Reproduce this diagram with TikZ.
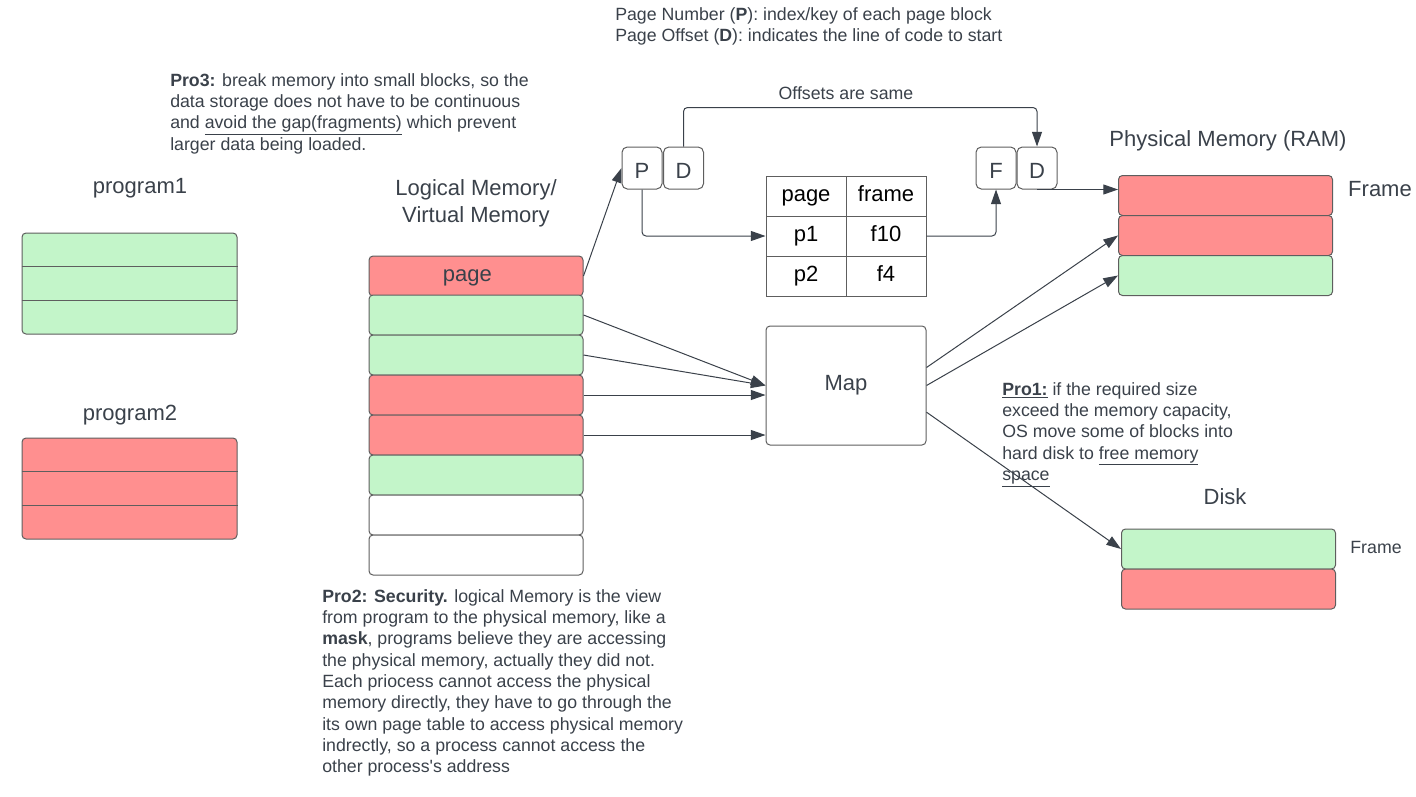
\documentclass[tikz,border=0pt]{standalone}
\usepackage{fontspec}
\setmainfont{Liberation Sans}
\usepackage{tikz}
\usetikzlibrary{arrows.meta, calc, positioning}

\definecolor{ink}{HTML}{3A414A}
\definecolor{edge}{HTML}{5E5E5E}
\definecolor{usedred}{HTML}{FF8F8F}
\definecolor{usedgreen}{HTML}{C3F5C9}

\tikzset{
    memrow/.style={draw=edge, line width=0.75pt, rounded corners=3pt, minimum width=160.5pt, minimum height=30pt, inner sep=0pt, text height=11.8pt, text depth=3.5pt, text=ink, font=\fontsize{16.5}{20}\selectfont},
    progbox/.style={draw=edge, line width=0.75pt, rounded corners=3pt, minimum width=161.25pt, minimum height=75.75pt, inner sep=0pt},
    keybox/.style={draw=edge, line width=0.75pt, rounded corners=4pt, fill=white, minimum width=30pt, minimum height=31.5pt, inner sep=0pt, text height=15pt, text depth=0pt, text=ink, font=\fontsize{16.5}{20}\selectfont},
    cell/.style={draw=edge, line width=0.75pt, minimum width=60pt, minimum height=30pt, inner sep=0pt, text height=11.8pt, text depth=3.5pt, text=black, font=\fontsize{16.5}{20}\selectfont},
    conn/.style={draw=ink, line width=0.75pt, -{Triangle[length=11pt,width=7.5pt]}},
    bigtext/.style={text=ink, inner sep=0pt, font=\fontsize{16.5}{20}\selectfont, align=center},
    smalltext/.style={text=ink, inner sep=0pt, font=\fontsize{13.3}{16}\selectfont},
    notetext/.style={smalltext, align=left, anchor=north west},
}

\begin{document}
\begin{tikzpicture}[x=0.75pt, y=-0.75pt]
    \useasboundingbox (0,0) rectangle (1416,796);

    % notes
    \node[notetext] (pdnote) at (615,7) {Page Number (\textbf{P}): index/key of each page block\\
        Page Offset (\textbf{D}): indicates the line of code to start};
    \node[notetext] (pro3) at (170,73) {\textbf{Pro3:} break memory into small blocks, so the\\
        data storage does not have to be continuous\\
        and \underline{avoid the gap(fragments)} which prevent\\
        larger data being loaded.};
    \node[notetext] (pro2) at (322,589) {\textbf{Pro2: Security.} logical Memory is the view\\
        from program to the physical memory, like a\\
        \textbf{mask}, programs believe they are accessing\\
        the physical memory, actually they did not.\\
        Each priocess cannot access the physical\\
        memory directly, they have to go through the\\
        its own page table to access physical memory\\
        indrectly, so a process cannot access the\\
        other process\textquotesingle s address};
    \node[notetext] (pro1) at (1002,382) {\underline{\textbf{Pro1:}} if the required size\\
        exceed the memory capacity,\\
        OS move some of blocks into\\
        hard disk to \underline{free memory}\\
        \underline{space}};

    % programs
    \node[bigtext] (prog1lbl) at (140,188) {program1};
    \node[progbox, fill=usedgreen] (prog1) at (129.5,283.5) {};
    \draw[edge, line width=0.75pt] ($(prog1.north west)!1/3!(prog1.south west)$) -- ($(prog1.north east)!1/3!(prog1.south east)$)
    ($(prog1.north west)!2/3!(prog1.south west)$) -- ($(prog1.north east)!2/3!(prog1.south east)$);
    \node[bigtext] (prog2lbl) at (130,415) {program2};
    \node[progbox, fill=usedred] (prog2) at (129.5,488.5) {};
    \draw[edge, line width=0.75pt] ($(prog2.north west)!1/3!(prog2.south west)$) -- ($(prog2.north east)!1/3!(prog2.south east)$)
    ($(prog2.north west)!2/3!(prog2.south west)$) -- ($(prog2.north east)!2/3!(prog2.south east)$);

    % logical memory
    \node[bigtext] (logiclbl) at (476,203) {Logical Memory/\\Virtual Memory};
    \node[memrow, fill=usedred] (l1) at (476,276) {\hspace*{-13pt}page};
    \node[memrow, fill=usedgreen] (l2) at (476,315) {};
    \node[memrow, fill=usedgreen] (l3) at (476,355) {};
    \node[memrow, fill=usedred] (l4) at (476,395) {};
    \node[memrow, fill=usedred] (l5) at (476,435) {};
    \node[memrow, fill=usedgreen] (l6) at (476,475) {};
    \node[memrow, fill=white] (l7) at (476,515) {};
    \node[memrow, fill=white] (l8) at (476,555) {};

    % address boxes
    \node[keybox] (P) at (642,168) {P};
    \node[keybox] (D) at (683.5,168) {D};
    \node[keybox] (F) at (996,168) {F};
    \node[keybox] (D2) at (1037,168) {D};

    % page table
    \node[cell] (t11) at (806,196) {page};
    \node[cell] (t12) at (886,196) {frame};
    \node[cell] (t21) at (806,236) {p1};
    \node[cell] (t22) at (886,236) {f10};
    \node[cell] (t31) at (806,276) {p2};
    \node[cell] (t32) at (886,276) {f4};

    % map
    \node[draw=edge, line width=0.75pt, rounded corners=3pt, minimum width=120pt, minimum height=89.25pt, text=ink, font=\fontsize{16.5}{20}\selectfont] (map) at (846,385.5) {Map};

    % physical memory
    \node[bigtext] (ramlbl) at (1228,140.5) {Physical Memory (RAM)};
    \node[memrow, fill=usedred] (r1) at (1225.5,195.5) {};
    \node[memrow, fill=usedred] (r2) at (1225.5,235.5) {};
    \node[memrow, fill=usedgreen] (r3) at (1225.5,275.5) {};
    \node[bigtext] (ramframe) at (1380,189) {Frame};

    % disk
    \node[bigtext] (disklbl) at (1225,497) {Disk};
    \node[memrow, fill=usedgreen] (k1) at (1228.5,549) {};
    \node[memrow, fill=usedred] (k2) at (1228.5,589) {};
    \node[smalltext] (diskframe) at (1376,547) {Frame};

    % connectors
    \draw[conn] (l1.east) -- (P.west);
    \draw[conn, rounded corners=3pt] (P.south) |- (t21.west);
    \draw[conn, rounded corners=3pt] (t22.east) -| (F.south);
    \draw[conn, rounded corners=3pt] (D.north) -- ++(0,-39) -| (D2.north);
    \node[smalltext] (samelbl) at (846,93) {Offsets are same};
    \draw[conn] (D2.south) -- (D2.south -| r1.west);
    \draw[conn] (l2.east) -- (map.west);
    \draw[conn] (l3.east) -- (map.west);
    \draw[conn] (l4.east) -- (l4.east -| map.west);
    \draw[conn] (l5.east) -- (l5.east -| map.west);
    \draw[conn] ([yshift=13.5pt]map.east) -- (r2.west);
    \draw[conn] (map.east) -- (r3.west);
    \draw[conn] ([yshift=-20pt]map.east) -- (k1.west);
\end{tikzpicture}
\end{document}
